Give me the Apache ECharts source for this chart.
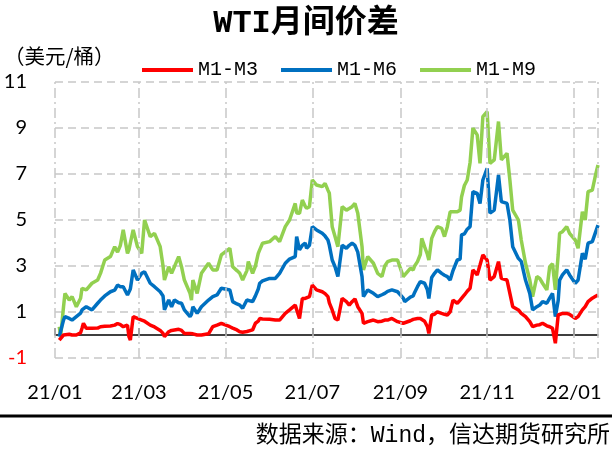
<!DOCTYPE html>
<html lang="zh">
<head>
    <meta charset="UTF-8">
    <title>WTI月间价差</title>
    <script src="https://cdn.jsdelivr.net/npm/echarts@6/dist/echarts.min.js"></script>
    <style>
        body { margin: 0; background: #fff; }
    </style>
</head>
<body>
    <div id="main" style="width:612px;height:450px;"></div>
    <script>
        // data (美元/桶)
        let dates = [
            '2021-01-04', '2021-01-05', '2021-01-07', '2021-01-08', '2021-01-11', '2021-01-13', '2021-01-16', '2021-01-19',
            '2021-01-20', '2021-01-21', '2021-01-23', '2021-01-27', '2021-01-31', '2021-02-02', '2021-02-05', '2021-02-09',
            '2021-02-12', '2021-02-14', '2021-02-16', '2021-02-18', '2021-02-21', '2021-02-22', '2021-02-23', '2021-02-25',
            '2021-02-28', '2021-03-03', '2021-03-05', '2021-03-09', '2021-03-12', '2021-03-16', '2021-03-18', '2021-03-19',
            '2021-03-22', '2021-03-24', '2021-03-26', '2021-03-29', '2021-03-31', '2021-04-02', '2021-04-06', '2021-04-07',
            '2021-04-08', '2021-04-11', '2021-04-14', '2021-04-19', '2021-04-22', '2021-04-25', '2021-04-28', '2021-05-04',
            '2021-05-06', '2021-05-09', '2021-05-11', '2021-05-13', '2021-05-16', '2021-05-17', '2021-05-20', '2021-05-22',
            '2021-05-24', '2021-05-25', '2021-05-27', '2021-06-01', '2021-06-05', '2021-06-08', '2021-06-12', '2021-06-15',
            '2021-06-19', '2021-06-20', '2021-06-22', '2021-06-24', '2021-06-26', '2021-06-27', '2021-06-29', '2021-07-01',
            '2021-07-04', '2021-07-08', '2021-07-10', '2021-07-12', '2021-07-13', '2021-07-15', '2021-07-17', '2021-07-19',
            '2021-07-22', '2021-07-25', '2021-07-27', '2021-07-29', '2021-07-31', '2021-08-02', '2021-08-05', '2021-08-06',
            '2021-08-09', '2021-08-13', '2021-08-16', '2021-08-19', '2021-08-21', '2021-08-23', '2021-08-26', '2021-08-30',
            '2021-09-03', '2021-09-04', '2021-09-08', '2021-09-10', '2021-09-11', '2021-09-13', '2021-09-15', '2021-09-16',
            '2021-09-18', '2021-09-20', '2021-09-21', '2021-09-23', '2021-09-25', '2021-09-27', '2021-09-30', '2021-10-02',
            '2021-10-04', '2021-10-06', '2021-10-08', '2021-10-11', '2021-10-13', '2021-10-14', '2021-10-16', '2021-10-18',
            '2021-10-20', '2021-10-22', '2021-10-25', '2021-10-27', '2021-10-29', '2021-11-01', '2021-11-03', '2021-11-06',
            '2021-11-09', '2021-11-11', '2021-11-15', '2021-11-17', '2021-11-19', '2021-11-23', '2021-11-25', '2021-11-28',
            '2021-12-01', '2021-12-03', '2021-12-06', '2021-12-08', '2021-12-10', '2021-12-13', '2021-12-15', '2021-12-17',
            '2021-12-19', '2021-12-21', '2021-12-22', '2021-12-24', '2021-12-27', '2021-12-29', '2022-01-02', '2022-01-04',
            '2022-01-07', '2022-01-09', '2022-01-11', '2022-01-14', '2022-01-16', '2022-01-18'
        ];
        let m1m3 = [
            -0.22, -0.29, 0.0, 0.07, 0.03, 0.0, 0.0, 0.1,
            0.29, 0.51, 0.29, 0.29, 0.3, 0.36, 0.38, 0.39,
            0.43, 0.5, 0.45, 0.36, 0.43, -0.07, -0.22, 0.8,
            0.72, 0.65, 0.6, 0.43, 0.35, 0.2, 0.07, -0.07,
            0.14, 0.2, 0.22, 0.25, 0.2, 0.07, 0.07, 0.05,
            0.05, 0.0, 0.0, 0.05, 0.36, 0.43, 0.51, 0.36,
            0.3, 0.22, 0.14, 0.12, 0.15, 0.2, 0.22, 0.51,
            0.6, 0.72, 0.7, 0.68, 0.65, 0.65, 0.94, 1.09,
            1.3, 1.38, 0.72, 1.59, 1.59, 1.59, 1.67, 2.17,
            1.96, 1.88, 1.8, 1.67, 1.4, 1.09, 0.72, 0.65,
            1.59, 1.45, 1.3, 1.45, 1.57, 1.23, 0.94, 0.51,
            0.58, 0.65, 0.58, 0.6, 0.65, 0.65, 0.72, 0.58,
            0.51, 0.51, 0.62, 0.68, 0.7, 0.72, 0.72, 0.72,
            0.6, 0.36, 0.07, 0.87, 0.9, 1.01, 0.94, 0.9,
            0.87, 1.01, 1.52, 1.38, 1.52, 1.55, 1.74, 1.9,
            2.03, 2.83, 2.61, 3.04, 3.48, 3.26, 2.39, 2.54,
            3.19, 2.46, 2.39, 1.81, 1.23, 1.09, 0.94, 0.8,
            0.58, 0.36, 0.43, 0.45, 0.51, 0.4, 0.36, 0.29,
            -0.36, 0.87, 0.9, 0.94, 0.94, 0.9, 0.72, 0.8,
            1.09, 1.23, 1.45, 1.6, 1.67, 1.74
        ];
        let m1m6 = [
            -0.07, -0.14, 0.65, 0.8, 0.72, 0.65, 0.8, 0.95,
            1.09, 1.1, 1.23, 1.09, 1.38, 1.52, 1.7, 1.88,
            1.95, 2.17, 2.1, 2.1, 1.74, 1.7, 2.0, 2.83,
            2.39, 2.68, 2.75, 2.25, 2.1, 1.88, 1.7, 1.09,
            1.52, 1.23, 1.52, 1.4, 1.38, 1.09, 0.8, 0.9,
            1.23, 0.94, 1.23, 1.52, 1.67, 1.74, 2.03, 1.96,
            1.45, 1.35, 1.3, 1.16, 1.52, 1.5, 1.45, 1.7,
            2.0, 2.25, 2.35, 2.46, 2.46, 2.68, 3.12, 3.3,
            3.41, 4.28, 3.7, 3.9, 4.0, 3.77, 3.9, 4.71,
            4.57, 4.42, 4.3, 4.13, 3.9, 3.26, 2.97, 2.54,
            3.9, 3.77, 3.9, 3.99, 3.9, 3.6, 2.54, 1.67,
            1.96, 1.81, 1.67, 1.75, 1.81, 1.9, 1.96, 1.88,
            1.6, 1.45, 1.65, 1.7, 1.85, 2.1, 2.32, 2.3,
            2.25, 1.96, 1.59, 2.5, 2.68, 2.83, 2.68, 2.6,
            2.54, 2.39, 2.8, 3.26, 3.3, 4.35, 4.4, 4.6,
            4.71, 6.23, 6.16, 5.72, 6.74, 7.25, 5.3, 5.43,
            6.96, 5.8, 5.72, 5.0, 3.84, 3.33, 3.2, 2.39,
            1.81, 1.09, 1.23, 1.3, 1.45, 1.38, 1.6, 1.81,
            0.8, 1.5, 2.39, 2.61, 2.83, 2.61, 2.25, 2.39,
            3.55, 3.3, 3.99, 4.06, 4.42, 4.78
        ];
        let m1m9 = [
            0.36, -0.05, 1.23, 1.81, 1.52, 1.67, 1.23, 1.6,
            2.03, 2.0, 1.96, 2.25, 2.39, 2.68, 3.26, 3.41,
            3.84, 3.6, 3.9, 4.57, 3.55, 3.7, 4.0, 4.57,
            3.84, 3.55, 5.0, 4.28, 4.42, 3.84, 3.0, 2.39,
            2.97, 2.68, 2.97, 3.41, 2.97, 2.39, 1.81, 1.52,
            2.39, 1.81, 2.68, 3.12, 2.83, 2.83, 3.48, 3.77,
            2.97, 2.8, 2.68, 2.39, 2.8, 3.19, 2.68, 3.0,
            3.55, 3.7, 3.99, 4.06, 4.28, 4.06, 4.71, 5.0,
            5.72, 5.3, 5.29, 5.87, 5.6, 5.51, 5.58, 6.74,
            6.52, 6.45, 6.59, 6.3, 6.16, 4.71, 4.28, 3.84,
            5.58, 5.43, 5.5, 5.58, 5.72, 5.29, 3.84, 2.83,
            3.41, 3.12, 2.68, 2.54, 3.0, 3.19, 3.26, 3.26,
            2.54, 2.6, 2.9, 2.83, 3.0, 3.19, 3.5, 4.2,
            3.84, 3.5, 3.26, 4.2, 4.49, 4.71, 4.64, 4.28,
            4.71, 5.36, 5.36, 5.36, 5.43, 6.0, 6.5, 6.74,
            7.5, 8.99, 8.7, 7.46, 9.49, 9.71, 7.46, 7.61,
            9.28, 7.61, 7.9, 6.74, 5.43, 5.0, 4.13, 3.12,
            2.39, 1.67, 2.54, 2.46, 2.25, 1.96, 2.97, 3.1,
            1.96, 3.5, 4.42, 4.49, 4.71, 4.42, 4.13, 3.77,
            5.36, 5.0, 6.23, 6.3, 6.88, 7.39
        ];
        let tickDates = ['2021-01-01', '2021-03-01', '2021-05-01', '2021-07-01', '2021-09-01', '2021-11-01', '2022-01-01'];
        let tickLabels = ['21/01', '21/03', '21/05', '21/07', '21/09', '21/11', '22/01'];
        let xMin = '2021-01-01';
        let xMax = '2022-01-18';

        let ts = d => +echarts.time.parse(d);
        let tickTs = tickDates.map(ts);
        let pair = arr => dates.map((d, i) => [ts(d), arr[i]]);

        let chart = echarts.init(document.getElementById('main'), null, { width: 612, height: 450 });
        let gridLine = { color: '#c8c8c8', width: 1.5 };

        let option = {
            backgroundColor: '#fff',
            animation: false,
            title: {
                text: 'WTI月间价差',
                left: 'center',
                top: 3,
                textStyle: {
                    fontFamily: 'Liberation Mono, Noto Sans CJK SC',
                    fontSize: 32,
                    fontWeight: 'bold',
                    color: '#000'
                }
            },
            legend: {
                left: 137,
                top: 55,
                icon: 'rect',
                itemWidth: 51,
                itemHeight: 4,
                itemGap: 23,
                textStyle: { fontFamily: 'Liberation Mono', fontSize: 20, color: '#000' },
                data: ['M1-M3', 'M1-M6', 'M1-M9']
            },
            grid: { left: 55, right: 14, top: 82, bottom: 92 },
            xAxis: {
                // dates as timestamps on a plain value axis
                type: 'value',
                min: ts(xMin),
                max: ts(xMax),
                axisLine: { onZero: true, lineStyle: { color: '#000', width: 1.5 } },
                axisTick: {
                    show: true, inside: true, length: 7,
                    customValues: tickTs,
                    lineStyle: { color: '#000', width: 1.5 }
                },
                axisLabel: {
                    customValues: tickTs,
                    margin: 25,
                    fontFamily: 'Lato',
                    fontSize: 20,
                    color: '#000',
                    formatter: function (v) {
                        let i = tickTs.indexOf(+v);
                        return i >= 0 ? tickLabels[i] : '';
                    }
                },
                splitLine: { show: false }
            },
            yAxis: {
                type: 'value',
                min: -1,
                max: 11,
                interval: 2,
                axisLine: { show: false },
                axisTick: { show: false },
                axisLabel: {
                    margin: 28,
                    fontFamily: 'Lato',
                    fontSize: 20,
                    color: function (v) { return v < 0 ? '#ff0000' : '#000'; }
                },
                splitLine: { show: true, lineStyle: { color: gridLine.color, width: gridLine.width, type: [8, 5] } }
            },
            graphic: [
                {
                    type: 'text', left: 4, top: 46,
                    style: { text: '（美元/桶）', fontFamily: 'Noto Sans CJK SC', fontSize: 20.5, fill: '#000' }
                },
                {
                    type: 'line',
                    shape: { x1: 0, y1: 416, x2: 612, y2: 416 },
                    style: { stroke: '#000', lineWidth: 3 }
                },
                {
                    type: 'text', right: 2, top: 424,
                    style: { text: '数据来源：Wind，信达期货研究所', fontFamily: 'Liberation Mono, Noto Sans CJK SC', fontSize: 23, fill: '#000' }
                }
            ],
            series: [
                {
                    name: 'M1-M3', type: 'line', showSymbol: false,
                    color: '#ff0000', lineStyle: { width: 3.5 },
                    data: pair(m1m3),
                    markLine: {
                        silent: true, symbol: 'none', label: { show: false },
                        lineStyle: { color: gridLine.color, width: gridLine.width, type: [10, 4, 2, 4] },
                        data: tickTs.concat([ts(xMax)]).map(t => ({ xAxis: t }))
                    },
                    z: 3
                },
                {
                    name: 'M1-M6', type: 'line', showSymbol: false,
                    color: '#0070c0', lineStyle: { width: 3.5 },
                    data: pair(m1m6), z: 2
                },
                {
                    name: 'M1-M9', type: 'line', showSymbol: false,
                    color: '#92d050', lineStyle: { width: 3.5 },
                    data: pair(m1m9), z: 1
                }
            ]
        };
        chart.setOption(option);
    </script>
</body>
</html>
